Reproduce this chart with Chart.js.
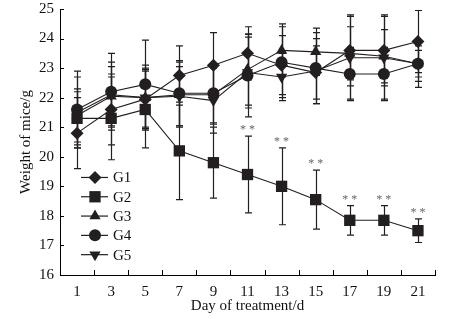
<!DOCTYPE html>
<html>
<head>
<meta charset="utf-8">
<script src="https://cdn.jsdelivr.net/npm/chart.js@4/dist/chart.umd.min.js"></script>
<style>
html,body{margin:0;padding:0;background:#fff;}
#c{display:block;}
</style>
</head>
<body>
<canvas id="c" width="457" height="319"></canvas>
<script>
const days = [1, 3, 5, 7, 9, 11, 13, 15, 17, 19, 21];
const groupNames = ['G1', 'G2', 'G3', 'G4', 'G5'];
const g1 = [20.8, 21.6, 21.95, 22.75, 23.1, 23.5, 23.1, 22.85, 23.6, 23.6, 23.9];
const g2 = [21.3, 21.3, 21.6, 20.2, 19.8, 19.4, 19.0, 18.55, 17.85, 17.85, 17.5];
const g3 = [21.4, 22.05, 22.0, 22.1, 22.1, 22.95, 23.6, 23.55, 23.5, 23.4, 23.15];
const g4 = [21.6, 22.2, 22.45, 22.15, 22.15, 22.75, 23.2, 23.0, 22.8, 22.8, 23.15];
const g5 = [21.5, 22.1, 22.0, 22.05, 21.9, 22.85, 22.7, 22.9, 23.35, 23.35, 23.15];
const sd1 = [1.2, 1.2, 1.0, 1.0, 1.1, 0.9, 1.0, 0.9, 1.2, 1.2, 1.05];
const sd2 = [0.9, 1.4, 1.3, 1.65, 1.2, 1.3, 1.3, 1.0, 0.5, 0.5, 0.4];
const sd3 = [0.9, 1.0, 1.0, 1.1, 1.0, 1.2, 0.9, 0.8, 0.9, 0.9, 0.6];
const sd4 = [1.3, 1.3, 1.5, 1.1, 1.0, 1.4, 1.2, 1.2, 0.9, 0.9, 0.45];
const sd5 = [1.2, 1.1, 1.1, 1.0, 1.1, 1.2, 0.8, 1.1, 1.4, 1.4, 0.8];
const g2Significance = ['', '', '', '', '', '**', '**', '**', '**', '**', '**'];
const yTicks = [16, 17, 18, 19, 20, 21, 22, 23, 24, 25];

const means = [g1, g2, g3, g4, g5];
const sds = [sd1, sd2, sd3, sd4, sd5];
const styles = [
  {pointStyle: 'rectRot', radius: 6.5, rotation: 0},
  {pointStyle: 'rect', radius: 8, rotation: 0},
  {pointStyle: 'triangle', radius: 6.5, rotation: 0},
  {pointStyle: 'circle', radius: 6, rotation: 0},
  {pointStyle: 'triangle', radius: 6.5, rotation: 180}
];
const INK = '#231f20';
const FONT = '"Liberation Serif", "Times New Roman", serif';

const datasets = groupNames.map((name, k) => ({
  label: name,
  data: days.map((d, i) => ({x: d, y: means[k][i]})),
  borderColor: INK,
  backgroundColor: INK,
  borderWidth: 1.1,
  pointStyle: styles[k].pointStyle,
  pointRadius: styles[k].radius,
  pointRotation: styles[k].rotation,
  pointBorderWidth: 0,
  pointBackgroundColor: INK,
  tension: 0,
  fill: false
}));

const decorPlugin = {
  id: 'decor',
  beforeDatasetsDraw(chart) {
    const ctx = chart.ctx, xs = chart.scales.x, ys = chart.scales.y;
    ctx.save();
    ctx.strokeStyle = INK;
    ctx.lineWidth = 1.2;
    for (let k = 0; k < means.length; k++) {
      for (let i = 0; i < days.length; i++) {
        const px = Math.round(xs.getPixelForValue(days[i])) + 0.5;
        const top = ys.getPixelForValue(means[k][i] + sds[k][i]);
        const bot = ys.getPixelForValue(means[k][i] - sds[k][i]);
        ctx.beginPath();
        ctx.moveTo(px, top); ctx.lineTo(px, bot);
        ctx.moveTo(px - 3.5, top); ctx.lineTo(px + 3.5, top);
        ctx.moveTo(px - 3.5, bot); ctx.lineTo(px + 3.5, bot);
        ctx.stroke();
      }
    }
    ctx.restore();
  },
  afterDraw(chart) {
    const ctx = chart.ctx, xs = chart.scales.x, ys = chart.scales.y, ca = chart.chartArea;
    ctx.save();
    ctx.strokeStyle = '#000';
    ctx.lineWidth = 1;
    ctx.beginPath();
    yTicks.forEach(v => {
      const py = Math.round(ys.getPixelForValue(v)) + 0.5;
      ctx.moveTo(ca.left, py); ctx.lineTo(ca.left + 4, py);
    });
    for (let d = 2; d <= 22; d += 2) {
      const px = Math.round(xs.getPixelForValue(d)) + 0.5;
      ctx.moveTo(px, ca.bottom); ctx.lineTo(px, ca.bottom - 5);
    }
    ctx.stroke();
    ctx.fillStyle = '#666';
    ctx.font = '12px ' + FONT;
    ctx.textAlign = 'center';
    ctx.textBaseline = 'middle';
    for (let i = 0; i < days.length; i++) {
      if (!g2Significance[i]) continue;
      const px = xs.getPixelForValue(days[i]);
      const py = ys.getPixelForValue(g2[i] + sd2[i]) - 9;
      ctx.fillText(g2Significance[i].split('').join(' '), px, py + 3);
    }
    const lx = ca.left + 21, ly = ys.getPixelForValue(19.3);
    ctx.font = '15px ' + FONT;
    ctx.textAlign = 'left';
    groupNames.forEach((name, k) => {
      const y = ly + k * 19.3;
      ctx.strokeStyle = INK; ctx.lineWidth = 1.2;
      ctx.beginPath(); ctx.moveTo(lx, y); ctx.lineTo(lx + 27, y); ctx.stroke();
      ctx.fillStyle = INK;
      if (Chart.helpers && Chart.helpers.drawPoint) {
        Chart.helpers.drawPoint(ctx, {pointStyle: styles[k].pointStyle, radius: styles[k].radius, rotation: styles[k].rotation, borderWidth: 0}, lx + 14, y);
      }
      ctx.fillStyle = '#111';
      ctx.fillText(name, lx + 32, y + 1);
    });
    ctx.restore();
  }
};

new Chart(document.getElementById('c'), {
  type: 'line',
  data: {datasets},
  plugins: [decorPlugin],
  options: {
    responsive: false,
    animation: false,
    devicePixelRatio: 1,
    layout: {padding: {left: 17, right: 22, top: 9, bottom: 4}},
    plugins: {legend: {display: false}, tooltip: {enabled: false}},
    scales: {
      x: {
        type: 'linear', min: 0, max: 22,
        afterFit(scale) { scale.height = 40; scale.paddingLeft = 0; scale.paddingRight = 0; },
        border: {display: true, color: '#000', width: 1},
        grid: {display: true, drawOnChartArea: false, drawTicks: false},
        ticks: {
          stepSize: 1, autoSkip: false, maxRotation: 0, padding: 8,
          color: '#111', font: {family: FONT, size: 15},
          callback: v => (v % 2 === 1 ? String(v) : '')
        },
        title: {display: true, text: 'Day of treatment/d', color: '#111', font: {family: FONT, size: 15}, padding: {top: 0, bottom: 0}}
      },
      y: {
        min: 16, max: 25,
        afterFit(scale) { scale.width = 43; scale.paddingTop = 0; scale.paddingBottom = 0; },
        border: {display: true, color: '#000', width: 1},
        grid: {display: true, drawOnChartArea: false, drawTicks: false},
        ticks: {
          stepSize: 1, padding: 6,
          color: '#111', font: {family: FONT, size: 15}
        },
        title: {display: true, text: 'Weight of mice/g', color: '#111', font: {family: FONT, size: 15}, padding: {top: 0, bottom: 2}}
      }
    }
  }
});
</script>
</body>
</html>
